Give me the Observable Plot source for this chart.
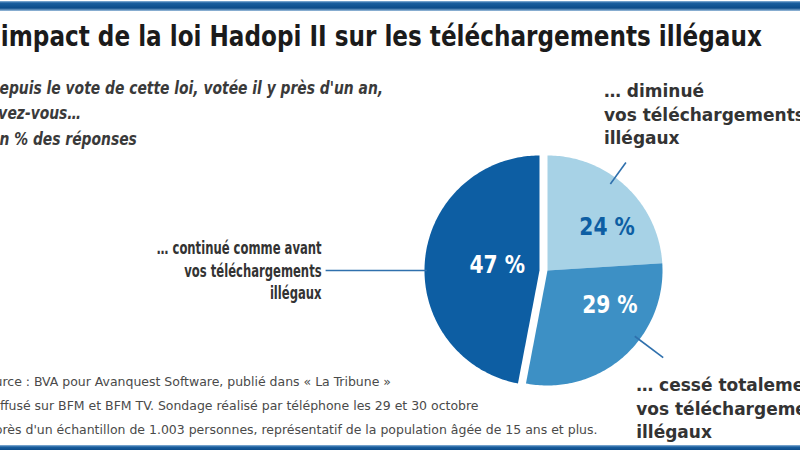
<!DOCTYPE html>
<html lang="fr"><head><meta charset="utf-8">
<script src="https://cdn.jsdelivr.net/npm/d3@7"></script>
<script src="https://cdn.jsdelivr.net/npm/@observablehq/plot@0.6"></script>
<style>
html,body{margin:0;padding:0;background:#fff;}
#wrap{position:relative;width:800px;height:450px;overflow:hidden;background:#fff;}
#topbar{position:absolute;left:0;top:1px;width:800px;height:10px;background:linear-gradient(#8fb6da 0,#1a5f9f 2px,#0c4c8a 7px,#9fc0de 10px);}
#botbar{position:absolute;left:0;top:445px;width:800px;height:5px;background:linear-gradient(#8fb6da 0,#1a5f9f 2px,#0c4c8a 5px);}
#chart{position:absolute;left:0;top:0;}
.line{position:absolute;white-space:nowrap;line-height:1;transform-origin:0 0;}
.title{font-family:"Liberation Sans Narrow","DejaVu Sans Condensed","Liberation Sans",sans-serif;font-weight:bold;font-size:29px;color:#1b1b1b;}
.sub{font-family:"Liberation Sans Narrow","DejaVu Sans Condensed","Liberation Sans",sans-serif;font-style:italic;font-weight:bold;font-size:18px;color:#3a3a3a;}
.src{font-family:"Liberation Sans Narrow","DejaVu Sans Condensed","Liberation Sans",sans-serif;font-size:12.5px;color:#4a4a4a;}
</style></head>
<body><div id="wrap"><div id="topbar"></div><div id="botbar"></div><div id="chart"></div></div>
<script>
// ---------- data ----------
const titleLines = ["L'impact de la loi Hadopi II sur les téléchargements illégaux"];
const subtitleLines = ["Depuis le vote de cette loi, votée il y près d'un an,", "avez-vous…", "En % des réponses"];
const sourceLines = [
  "Source : BVA pour Avanquest Software, publié dans « La Tribune »",
  "et diffusé sur BFM et BFM TV. Sondage réalisé par téléphone les 29 et 30 octobre",
  "auprès d'un échantillon de 1.003 personnes, représentatif de la population âgée de 15 ans et plus."
];
const categories = ["diminué", "cessé totalement", "continué comme avant"];
const values = [24, 29, 47];
const valueLabels = ["24 %", "29 %", "47 %"];
const categoryLabels = [
  ["… diminué", "vos téléchargements", "illégaux"],
  ["… cessé totalement", "vos téléchargements", "illégaux"],
  ["… continué comme avant", "vos téléchargements", "illégaux"]
];

// ---------- style / layout ----------
const sliceColors = ["#a7d2e6", "#3d90c5", "#0d5ea3"];
const valueColors = ["#0d5ea3", "#ffffff", "#ffffff"];
const FONT = '"Liberation Sans Narrow","DejaVu Sans Condensed","Liberation Sans",sans-serif';
const W = 800, H = 450, R = 115, CX = 543, CY = 270;
const explodePx = [4, 4, -4];
const leaderLayout = [
  {angle: 36, r0: 0.93, r1: 1.16},
  {angle: 127, r0: 0.95, r1: 1.26},
  {angle: 270, r0: 0.98, r1: 1.86}
];
const labelLayout = [
  {anchor: "start", dx: -22, dy: -82, lineAnchor: "top", size: 18, sx: 1.05},
  {anchor: "start", dx: -27, dy: 17, lineAnchor: "top", size: 18, sx: 1.05},
  {anchor: "end", dx: -4, dy: -1, lineAnchor: "middle", size: 17, sx: 0.76}
];
const valueLayout = [{angle: 54, r: 0.64}, {angle: 119, r: 0.62}, {angle: 277, r: 0.37}];
const valueScaleX = 0.9;

// ---------- pie geometry ----------
const rad = d => d * Math.PI / 180;
const arcs = d3.pie().sort(null).value(d => d)(values);
const slices = arcs.map((a, i) => ({cat: categories[i], start: a.startAngle, end: a.endAngle, ox: explodePx[i] / R, oy: 0}));
const polar = (s, ang, r) => ({x: s.ox + r * Math.sin(ang), y: s.oy + r * Math.cos(ang)});
const piePoints = slices.flatMap(s => {
  const n = Math.max(2, Math.ceil((s.end - s.start) / rad(1)));
  const arr = [{cat: s.cat, x: s.ox, y: s.oy}];
  for (let k = 0; k <= n; k++) arr.push({cat: s.cat, ...polar(s, s.start + (s.end - s.start) * k / n, 1)});
  arr.push({cat: s.cat, x: s.ox, y: s.oy});
  return arr;
});
const leaders = slices.map((s, i) => {
  const L = leaderLayout[i];
  const p0 = polar(s, rad(L.angle), L.r0), p1 = polar(s, rad(L.angle), L.r1);
  return {cat: s.cat, x1: p0.x, y1: p0.y, x2: p1.x, y2: p1.y, text: categoryLabels[i].join("\n"), ...labelLayout[i]};
});
const valuePts = slices.map((s, i) => ({cat: s.cat, text: valueLabels[i], color: valueColors[i], ...polar(s, rad(valueLayout[i].angle), valueLayout[i].r)}));

const labelMarks = leaders.map(l => Plot.text([l], {
  x: "x2", y: "y2", text: "text", textAnchor: l.anchor, lineAnchor: l.lineAnchor,
  dx: l.dx, dy: l.dy, lineHeight: 1.3, fontSize: l.size, fontWeight: "bold",
  fontFamily: FONT, fill: "#333"
}));

const chart = Plot.plot({
  width: W, height: H, margin: 0,
  x: {domain: [-CX / R, (W - CX) / R], range: [0, W], axis: null},
  y: {domain: [CY / R, -(H - CY) / R], range: [0, H], axis: null},
  color: {domain: categories, range: sliceColors},
  style: {background: "transparent", overflow: "visible"},
  marks: [
    Plot.line(piePoints, {x: "x", y: "y", z: "cat", fill: "cat", stroke: "none", curve: "linear"}),
    Plot.link(leaders, {x1: "x1", y1: "y1", x2: "x2", y2: "y2", stroke: "#2f70ad", strokeWidth: 1.6}),
    ...labelMarks,
    Plot.text(valuePts, {x: "x", y: "y", text: "text", fill: "color", fontSize: 25, fontWeight: "bold", fontFamily: FONT})
  ]
});
document.getElementById("chart").appendChild(chart);

// horizontal condensing of the texts around their anchor
const textGroups = chart.querySelectorAll('g[aria-label="text"]');
const squeeze = (g, sx) => g && g.querySelectorAll("text").forEach(t => {
  const tr = t.getAttribute("transform") || "";
  t.setAttribute("transform", `${tr} scale(${sx},1)`);
});
leaders.forEach((l, i) => squeeze(textGroups[i], l.sx));
squeeze(textGroups[leaders.length], valueScaleX);

// ---------- header / footer text (cropped at left like the reference) ----------
const wrap = document.getElementById("wrap");
function measure(cls, text) {
  const s = document.createElement("span");
  s.className = cls;
  s.style.cssText = "position:absolute;visibility:hidden;white-space:nowrap;line-height:1;left:0;top:0;";
  s.textContent = text;
  wrap.appendChild(s);
  const w = s.getBoundingClientRect().width;
  s.remove();
  return w;
}
// cuts: hidden prefix of each line (+ extra px), same visible left edge for all lines
function placeGroup(lines, cls, cuts, extra, refIndex, startX, endX, baselines, size) {
  const c = cuts.map((t, i) => measure(cls, t) + extra[i]);
  const wRef = measure(cls, lines[refIndex]);
  const s = (endX - startX) / (wRef - c[refIndex]);
  lines.forEach((t, i) => {
    const d = document.createElement("div");
    d.className = "line " + cls;
    d.textContent = t;
    d.style.left = (startX - c[i] * s) + "px";
    d.style.top = (baselines[i] - 0.86 * size) + "px";
    d.style.transform = `scaleX(${s})`;
    wrap.appendChild(d);
  });
}
placeGroup(titleLines, "title", ["L'"], [0], 0, 1, 762, [47], 29);
placeGroup(subtitleLines, "sub", ["D", "a", "E"], [3, 4, 3], 0, 2, 383, [94, 119, 145], 18);
placeGroup(sourceLines, "src", ["Sou", "et di", "aup"], [0, 2, 0], 2, 2, 597, [387, 411, 435], 12.5);
</script>
</body></html>
